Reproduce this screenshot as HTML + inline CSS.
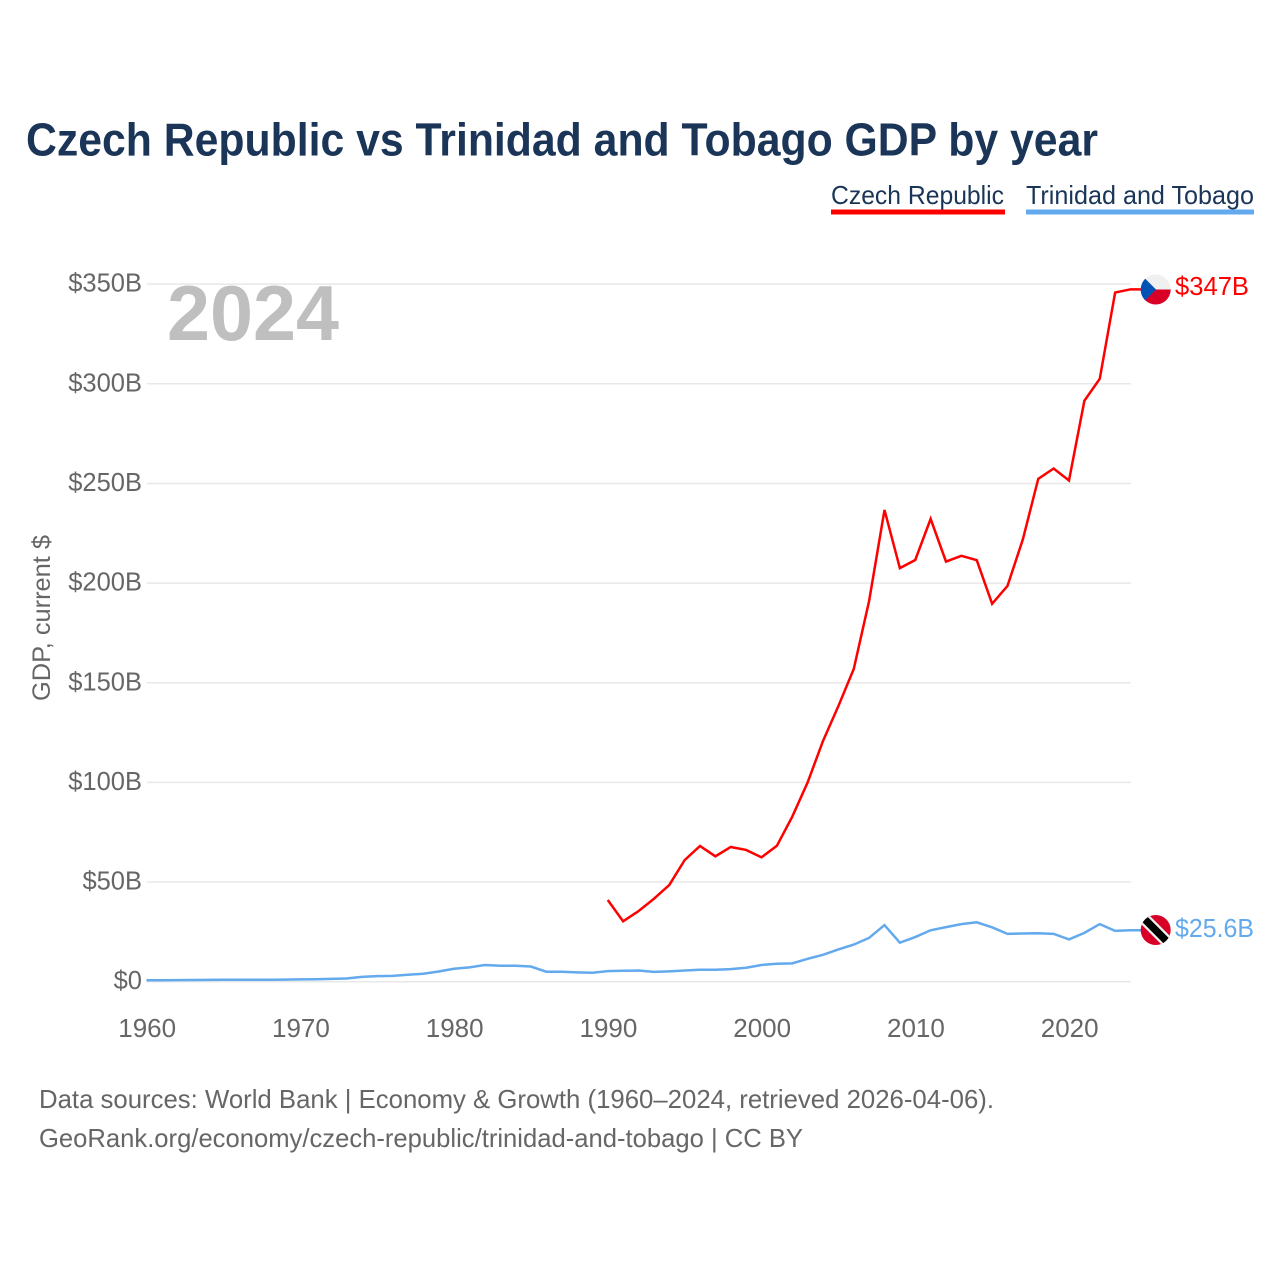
<!DOCTYPE html>
<html lang="en">
<head>
<meta charset="utf-8">
<title>Czech Republic vs Trinidad and Tobago GDP by year</title>
<style>
html,body{margin:0;padding:0;background:#fff;width:1280px;height:1280px;overflow:hidden}
svg{display:block}
text{font-family:"Liberation Sans",sans-serif}
</style>
</head>
<body>
<svg id="chart" xmlns="http://www.w3.org/2000/svg" width="1280" height="1280" viewBox="0 0 1280 1280">
  <defs>
    <clipPath id="cz-clip"><circle cx="1155.7" cy="289.5" r="15"/></clipPath>
    <clipPath id="tt-clip"><circle cx="1155.7" cy="930" r="15"/></clipPath>
  </defs>
  <rect width="1280" height="1280" fill="#fff"/>
  <text x="26" y="155.5" font-size="46" font-weight="700" fill="#1a3557" textLength="1072" lengthAdjust="spacingAndGlyphs">Czech Republic vs Trinidad and Tobago GDP by year</text>

  <g>
    <g>
      <text x="831" y="204" font-size="26" fill="#1a3557" textLength="173" lengthAdjust="spacingAndGlyphs">Czech Republic</text>
      <rect x="831" y="209.5" width="174" height="5" fill="#ff0000"/>
    </g>
    <g>
      <text x="1026" y="204" font-size="26" fill="#1a3557" textLength="228" lengthAdjust="spacingAndGlyphs">Trinidad and Tobago</text>
      <rect x="1026" y="209.5" width="228" height="5" fill="#63a9ed"/>
    </g>
  </g>

  <g id="grid"></g>
  <g id="y-ticks"></g>
  <g id="x-ticks"></g>

  <text transform="translate(50,618) rotate(-90)" text-anchor="middle" font-size="25" fill="#666666" textLength="166" lengthAdjust="spacingAndGlyphs">GDP, current $</text>
  <text x="167" y="340" font-size="78" font-weight="700" fill="#bfbfbf" textLength="172" lengthAdjust="spacingAndGlyphs">2024</text>

  <g id="series"></g>

  <g clip-path="url(#cz-clip)">
    <rect x="1140" y="274" width="32" height="15.5" fill="#f0f0f0"/>
    <rect x="1140" y="289.5" width="32" height="16" fill="#d80027"/>
    <polygon points="1140,274 1140.5,274 1156,289.5 1140.5,305 1140,305" fill="#0052b4"/>
  </g>
  <g clip-path="url(#tt-clip)">
    <rect x="1140" y="915" width="32" height="30" fill="#d80027"/>
    <line x1="1142" y1="916.5" x2="1169" y2="943.5" stroke="#f0f0f0" stroke-width="12"/>
    <line x1="1142" y1="916.5" x2="1169" y2="943.5" stroke="#000000" stroke-width="7.5"/>
  </g>

  <text x="1175" y="295" font-size="25.5" fill="#ff0000" textLength="74" lengthAdjust="spacingAndGlyphs">$347B</text>
  <text x="1175" y="937" font-size="25.5" fill="#63a9ed" textLength="79" lengthAdjust="spacingAndGlyphs">$25.6B</text>

  <text x="39" y="1108" font-size="26" fill="#666666" textLength="955" lengthAdjust="spacingAndGlyphs">Data sources: World Bank | Economy &amp; Growth (1960–2024, retrieved 2026-04-06).</text>
  <text x="39" y="1147" font-size="26" fill="#666666" textLength="764" lengthAdjust="spacingAndGlyphs">GeoRank.org/economy/czech-republic/trinidad-and-tobago | CC BY</text>
</svg>
<script>
const yTickValues = [0, 50, 100, 150, 200, 250, 300, 350];
const yTickLabels = ["$0", "$50B", "$100B", "$150B", "$200B", "$250B", "$300B", "$350B"];
const xTickYears = [1960, 1970, 1980, 1990, 2000, 2010, 2020];
const czechYears = [1990,1991,1992,1993,1994,1995,1996,1997,1998,1999,2000,2001,2002,2003,2004,2005,2006,2007,2008,2009,2010,2011,2012,2013,2014,2015,2016,2017,2018,2019,2020,2021,2022,2023,2024];
const czechValues = [41.0,30.3,35.4,41.6,48.5,61.0,68.1,62.9,67.6,66.1,62.4,68.2,82.8,100.0,120.8,138.3,156.9,191.1,236.7,207.5,211.6,232.2,210.8,213.7,211.5,189.6,198.6,222.0,252.3,257.5,251.5,291.5,302.5,345.8,347.4];
const trinidadYears = [1960,1961,1962,1963,1964,1965,1966,1967,1968,1969,1970,1971,1972,1973,1974,1975,1976,1977,1978,1979,1980,1981,1982,1983,1984,1985,1986,1987,1988,1989,1990,1991,1992,1993,1994,1995,1996,1997,1998,1999,2000,2001,2002,2003,2004,2005,2006,2007,2008,2009,2010,2011,2012,2013,2014,2015,2016,2017,2018,2019,2020,2021,2022,2023,2024];
const trinidadValues = [0.7,0.75,0.8,0.85,0.9,0.95,0.95,0.95,1.0,1.05,1.15,1.2,1.4,1.6,2.4,2.8,2.9,3.5,4.0,5.1,6.5,7.2,8.4,8.0,8.0,7.6,5.0,5.0,4.7,4.5,5.3,5.5,5.6,4.9,5.2,5.6,6.0,6.0,6.3,7.0,8.4,9.0,9.2,11.5,13.5,16.2,18.6,22.0,28.4,19.6,22.4,25.8,27.4,28.9,29.8,27.3,24.0,24.2,24.3,24.0,21.2,24.5,28.9,25.5,25.8];

const X0 = 146.5, X1 = 1130.5, YEAR0 = 1960, YEAR1 = 2024;
const Y0 = 981.7, PX_PER_B = 1.993;
const LEADER_END = 1141;
function xScale(year) { return X0 + (year - YEAR0) * (X1 - X0) / (YEAR1 - YEAR0); }
function yScale(value) { return Y0 - value * PX_PER_B; }

const NS = "http://www.w3.org/2000/svg";
const gridGroup = document.getElementById("grid");
const yTickGroup = document.getElementById("y-ticks");
const xTickGroup = document.getElementById("x-ticks");
const seriesGroup = document.getElementById("series");

yTickValues.forEach(function (v, i) {
  const gl = document.createElementNS(NS, "line");
  
  
  gl.setAttribute("x1", X0 + 0.5);
  gl.setAttribute("x2", X1 + 0.5);
  gl.setAttribute("y1", yScale(v));
  gl.setAttribute("y2", yScale(v));
  gl.setAttribute("stroke", "#e8e8e8");
  gl.setAttribute("stroke-width", "1.5");
  gridGroup.appendChild(gl);

  const t = document.createElementNS(NS, "text");
  
  
  t.setAttribute("x", 142);
  t.setAttribute("y", yScale(v) + 7.5);
  t.setAttribute("text-anchor", "end");
  t.setAttribute("font-size", "25.5");
  t.setAttribute("fill", "#666666");
  t.textContent = yTickLabels[i];
  yTickGroup.appendChild(t);
});

xTickYears.forEach(function (yr) {
  const t = document.createElementNS(NS, "text");
  
  
  t.setAttribute("x", xScale(yr) + 0.7);
  t.setAttribute("y", 1037);
  t.setAttribute("text-anchor", "middle");
  t.setAttribute("font-size", "26");
  t.setAttribute("fill", "#666666");
  t.textContent = String(yr);
  xTickGroup.appendChild(t);
});

function buildPoints(years, values) {
  const pts = years.map(function (yr, i) {
    return xScale(yr).toFixed(2) + "," + yScale(values[i]).toFixed(2);
  });
  pts.push(LEADER_END + "," + yScale(values[values.length - 1]).toFixed(2));
  return pts.join(" ");
}

const czechLine = document.createElementNS(NS, "polyline");


czechLine.setAttribute("points", buildPoints(czechYears, czechValues));
czechLine.setAttribute("fill", "none");
czechLine.setAttribute("stroke", "#ff0000");
czechLine.setAttribute("stroke-width", "2.5");
seriesGroup.appendChild(czechLine);

const trinidadLine = document.createElementNS(NS, "polyline");


trinidadLine.setAttribute("points", buildPoints(trinidadYears, trinidadValues));
trinidadLine.setAttribute("fill", "none");
trinidadLine.setAttribute("stroke", "#63a9ed");
trinidadLine.setAttribute("stroke-width", "2.5");
seriesGroup.appendChild(trinidadLine);
</script>
</body>
</html>
